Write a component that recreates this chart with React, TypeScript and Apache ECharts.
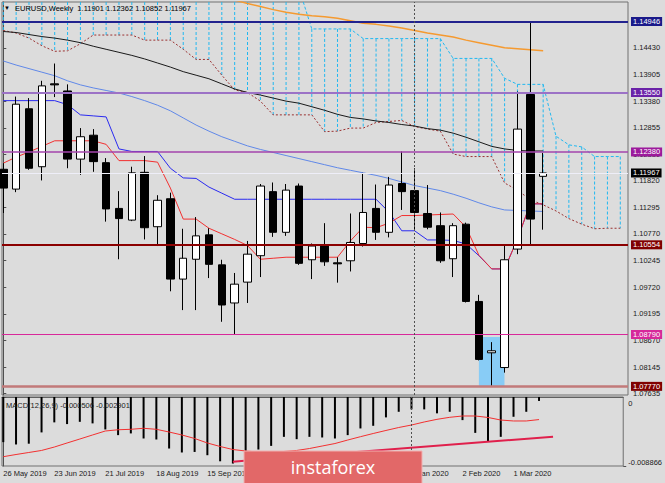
import React, { useEffect, useRef } from 'react';
import * as echarts from 'echarts';

const weeks = [
  '26 May 2019', '2 Jun 2019', '9 Jun 2019', '16 Jun 2019', '23 Jun 2019', '30 Jun 2019', '7 Jul 2019',
  '14 Jul 2019', '21 Jul 2019', '28 Jul 2019', '4 Aug 2019', '11 Aug 2019', '18 Aug 2019', '25 Aug 2019',
  '1 Sep 2019', '8 Sep 2019', '15 Sep 2019', '22 Sep 2019', '29 Sep 2019', '6 Oct 2019', '13 Oct 2019',
  '20 Oct 2019', '27 Oct 2019', '3 Nov 2019', '10 Nov 2019', '17 Nov 2019', '24 Nov 2019', '1 Dec 2019',
  '8 Dec 2019', '15 Dec 2019', '22 Dec 2019', '29 Dec 2019', '5 Jan 2020', '12 Jan 2020', '19 Jan 2020',
  '26 Jan 2020', '2 Feb 2020', '9 Feb 2020', '16 Feb 2020', '23 Feb 2020', '1 Mar 2020', '8 Mar 2020',
  '15 Mar 2020',
];
const dateLabelIdx = [0, 4, 8, 12, 16, 20, 24, 28, 32, 36, 40];

const opens = [1.1204, 1.1165, 1.1323, 1.1209, 1.1372, 1.1358, 1.1224, 1.1271, 1.1217, 1.1127, 1.1104, 1.1198, 1.1091, 1.1146, 1.0988, 1.1027, 1.1075, 1.1016, 1.0941, 1.0982, 1.1034, 1.1160, 1.1080, 1.1171, 1.1026, 1.1053, 1.1020, 1.1024, 1.1058, 1.1127, 1.1080, 1.1176, 1.1162, 1.1117, 1.1093, 1.1028, 1.1096, 1.0944, 1.0843, 1.0814, 1.1047, 1.1351, 1.11901];
const highs = [1.1216, 1.1347, 1.1344, 1.1378, 1.1412, 1.1371, 1.1285, 1.1283, 1.1226, 1.1161, 1.1209, 1.1230, 1.1153, 1.1158, 1.1087, 1.1110, 1.1088, 1.1026, 1.1000, 1.1063, 1.1175, 1.1178, 1.1175, 1.1176, 1.1058, 1.1098, 1.1031, 1.1117, 1.1197, 1.1174, 1.1189, 1.1239, 1.1206, 1.1173, 1.1119, 1.1098, 1.1099, 1.0957, 1.0864, 1.1055, 1.1357, 1.14946, 1.12362];
const lows = [1.1118, 1.1159, 1.1203, 1.1182, 1.1346, 1.1206, 1.1193, 1.1199, 1.1101, 1.1027, 1.1102, 1.1066, 1.1053, 1.0964, 1.0927, 1.0927, 1.0990, 1.0904, 1.0880, 1.0941, 1.0992, 1.1071, 1.1073, 1.1016, 1.0988, 1.1014, 1.0981, 1.1003, 1.1052, 1.1065, 1.1070, 1.1124, 1.1086, 1.1086, 1.1020, 1.0992, 1.0942, 1.0828, 1.0778, 1.0804, 1.1037, 1.1057, 1.10852];
const closes = [1.1167, 1.1332, 1.1206, 1.1368, 1.1370, 1.1224, 1.1268, 1.1219, 1.1126, 1.1107, 1.1197, 1.1089, 1.1143, 1.0988, 1.1029, 1.1073, 1.1017, 1.0937, 1.0978, 1.1037, 1.1171, 1.1080, 1.1163, 1.1019, 1.1053, 1.1022, 1.1018, 1.1060, 1.1119, 1.1080, 1.1173, 1.1160, 1.1119, 1.1090, 1.1024, 1.1093, 1.0944, 1.0830, 1.0847, 1.1026, 1.1283, 1.1106, 1.11967];

const maOrange = [null, null, null, null, null, null, null, null, null, null, null, null, null, null, null, null, null, null, 1.1537, 1.1530, 1.1524, 1.1518, 1.1513, 1.1509, 1.1506, 1.1504, 1.1501, 1.1496, 1.1491, 1.1489, 1.1486, 1.1482, 1.1477, 1.1472, 1.1468, 1.1464, 1.1458, 1.1453, 1.1448, 1.1443, 1.1441, 1.1439, 1.1437];
const maBlack = [1.1475, 1.1473, 1.1469, 1.1465, 1.1462, 1.1458, 1.1453, 1.1446, 1.1440, 1.1434, 1.1428, 1.1421, 1.1413, 1.1405, 1.1396, 1.1389, 1.1382, 1.1372, 1.1362, 1.1355, 1.1350, 1.1344, 1.1338, 1.1334, 1.1327, 1.1320, 1.1312, 1.1306, 1.1303, 1.1299, 1.1296, 1.1292, 1.1289, 1.1284, 1.1281, 1.1275, 1.1267, 1.1258, 1.1249, 1.1244, 1.1241, 1.1240, 1.1240];
const maBlue = [1.1417, 1.1409, 1.1402, 1.1395, 1.1388, 1.1378, 1.1370, 1.1364, 1.1359, 1.1354, 1.1347, 1.1339, 1.1330, 1.1319, 1.1305, 1.1291, 1.1279, 1.1268, 1.1259, 1.1250, 1.1243, 1.1237, 1.1231, 1.1225, 1.1219, 1.1213, 1.1207, 1.1202, 1.1197, 1.1192, 1.1186, 1.1179, 1.1172, 1.1167, 1.1162, 1.1155, 1.1147, 1.1138, 1.1130, 1.1124, 1.1123, 1.1122, 1.1121];
const kijun = [1.1339, 1.1339, 1.1339, 1.1339, 1.1339, 1.1331, 1.1311, 1.1309, 1.1307, 1.1244, 1.1239, 1.1239, 1.1239, 1.1206, 1.1187, 1.1186, 1.1169, 1.1157, 1.1145, 1.1145, 1.1145, 1.1145, 1.1145, 1.1145, 1.1145, 1.1145, 1.1145, 1.1145, 1.1145, 1.1145, 1.1120, 1.1083, 1.1083, 1.1065, 1.1065, 1.1064, 1.1057, 1.1034, 1.1008, 1.1008, 1.1067, 1.1136, 1.1136];
const tenkan = [1.1216, 1.1228, 1.1238, 1.1249, 1.1260, 1.1260, 1.1260, 1.1260, 1.1253, 1.1221, 1.1221, 1.1221, 1.1218, 1.1167, 1.1106, 1.1106, 1.1088, 1.1077, 1.1066, 1.1054, 1.1027, 1.1029, 1.1031, 1.1031, 1.1031, 1.1031, 1.1031, 1.1063, 1.1090, 1.1089, 1.1098, 1.1113, 1.1113, 1.1114, 1.1115, 1.1116, 1.1090, 1.1035, 1.1008, 1.1008, 1.1067, 1.1136, 1.1136];
const cloudUpper = [1.1560, 1.1560, 1.1560, 1.1560, 1.1560, 1.1560, 1.1560, 1.1560, 1.1560, 1.1560, 1.1560, 1.1560, 1.1560, 1.1560, 1.1560, 1.1560, 1.1560, 1.1560, 1.1560, 1.1560, 1.1560, 1.1560, 1.1560, 1.1560, 1.1480, 1.1480, 1.1480, 1.1480, 1.1461, 1.1461, 1.1461, 1.1461, 1.1461, 1.1461, 1.1461, 1.1422, 1.1422, 1.1422, 1.1422, 1.1383, 1.1371, 1.1371, 1.1371, 1.1269, 1.1252, 1.1248, 1.1229, 1.1229, 1.1229];
const cloudLower = [1.1477, 1.1472, 1.1462, 1.1447, 1.1436, 1.1437, 1.1451, 1.1468, 1.1468, 1.1468, 1.1468, 1.1458, 1.1458, 1.1458, 1.1440, 1.1420, 1.1420, 1.1389, 1.1360, 1.1355, 1.1338, 1.1311, 1.1311, 1.1311, 1.1311, 1.1278, 1.1279, 1.1285, 1.1285, 1.1296, 1.1298, 1.1300, 1.1288, 1.1283, 1.1279, 1.1234, 1.1229, 1.1229, 1.1229, 1.1177, 1.1163, 1.1144, 1.1134, 1.1122, 1.1107, 1.1096, 1.1087, 1.1088, 1.1088];

const macdHist = [-0.0058, -0.0061, -0.0060, -0.00455, -0.00326, -0.00348, -0.00319, -0.00339, -0.00417, -0.0049, -0.00468, -0.00533, -0.00546, -0.00662, -0.00713, -0.00706, -0.00748, -0.00826, -0.00855, -0.00787, -0.00675, -0.00628, -0.00512, -0.00542, -0.00512, -0.0052, -0.00533, -0.0049, -0.00404, -0.0037, -0.00262, -0.0019, -0.00159, -0.00159, -0.0021, -0.0019, -0.00297, -0.00461, -0.00577, -0.00512, -0.00254, -0.0019, -0.000506];
const macdSignal = [-0.00767, -0.00739, -0.00713, -0.00687, -0.00643, -0.00591, -0.0054, -0.00488, -0.00437, -0.00421, -0.00415, -0.00402, -0.00415, -0.0045, -0.00488, -0.00533, -0.00591, -0.00636, -0.00675, -0.00694, -0.00707, -0.00713, -0.007, -0.00687, -0.00662, -0.0063, -0.00598, -0.00553, -0.0051, -0.00469, -0.0043, -0.00392, -0.0036, -0.00321, -0.00287, -0.00261, -0.00244, -0.00244, -0.00263, -0.00296, -0.00308, -0.00308, -0.002901];
const macdTrendX = [18, 43.1];
const macdTrendY = [-0.00831, -0.0051];

const priceTicks = [1.07635, 1.08145, 1.0867, 1.09195, 1.0972, 1.10245, 1.1077, 1.11295, 1.1182, 1.1233, 1.12855, 1.1338, 1.13905, 1.1443];
const macdTopTick = [0];
const macdBottomTick = [-0.008866];

const levelValues = [1.14946, 1.1355, 1.1238, 1.11967, 1.10554, 1.0879, 1.0777];
const levelLineColors = ['#22228e', '#9c72c6', '#a444ac', '#eeeef8', '#8b0000', '#d8289a', '#c27a7a'];
const levelLineWidths = [2, 2, 1.5, 1, 2, 1, 2.5];
const levelTagColors = ['#1a1a8a', '#6a22a8', '#9c1a9c', '#000000', '#800000', '#d6289a', '#800000'];

const boxX = [37, 38.99];
const boxY = [1.0874, 1.0777];
const separatorIdx = 32;

const FONT = '"Liberation Sans", Arial, sans-serif';
const X_MIN = -0.1;
const X_MAX = 48.6;

const pairs = (arr: (number | null)[]) =>
  arr.map((v, i) => [i, v]).filter((p) => p[1] !== null);

export default function App() {
  const ref = useRef<HTMLDivElement>(null);

  useEffect(() => {
    if (!ref.current) return;
    const chart = echarts.init(ref.current, undefined, { renderer: 'svg' });
    const last = closes.length - 1;
    const header = `EURUSD,Weekly  ${opens[last].toFixed(5)} ${highs[last].toFixed(5)} ${lows[last].toFixed(5)} ${closes[last].toFixed(5)}`;
    const macdText = `MACD(12,26,9) ${macdHist[last].toFixed(6)} ${macdSignal[last].toFixed(6)}`;

    const levelMarks: any[] = levelValues.map((v, k) => ({
      yAxis: v,
      lineStyle: { color: levelLineColors[k], width: levelLineWidths[k], type: 'solid' },
      label: {
        show: true,
        position: 'end',
        distance: 3,
        formatter: v.toFixed(5),
        backgroundColor: levelTagColors[k],
        color: '#ffffff',
        padding: [1, 2, 0, 2],
        fontSize: 7.5,
        fontFamily: FONT,
      },
    }));
    levelMarks.push({
      xAxis: separatorIdx,
      lineStyle: { color: '#505050', width: 1, type: [2, 2] },
      label: { show: false },
    });

    const option: any = {
      animation: false,
      backgroundColor: '#dcdcdc',
      grid: [
        { left: 2, top: 2, right: 37, height: 393, show: true, borderColor: '#707070', borderWidth: 1, backgroundColor: 'transparent' },
        { left: 2, top: 397, right: 37, height: 69, show: true, borderColor: '#707070', borderWidth: 1, backgroundColor: 'transparent' },
      ],
      xAxis: [
        { type: 'value', gridIndex: 0, min: X_MIN, max: X_MAX, show: false, splitLine: { show: false } },
        {
          type: 'value', gridIndex: 1, min: X_MIN, max: X_MAX,
          axisLine: { show: true, lineStyle: { color: '#606060' } },
          axisTick: { show: true, length: 3, customValues: dateLabelIdx, lineStyle: { color: '#606060' } },
          axisLabel: {
            customValues: dateLabelIdx,
            formatter: (v: number) => weeks[Math.round(v)] || '',
            align: 'left', margin: 3, fontSize: 7.5, fontFamily: FONT, color: '#202020',
          },
          splitLine: { show: false },
        },
      ],
      yAxis: [
        {
          type: 'value', gridIndex: 0, position: 'right', min: 1.076, max: 1.1533,
          axisLine: { show: true, lineStyle: { color: '#505050' } },
          axisTick: { show: true, length: 3, customValues: priceTicks, lineStyle: { color: '#505050' } },
          axisLabel: {
            customValues: priceTicks,
            formatter: (v: number) => v.toFixed(5),
            margin: 5, fontSize: 7.5, fontFamily: FONT, color: '#202020',
          },
          splitLine: { show: false },
        },
        {
          type: 'value', gridIndex: 1, position: 'right', min: -0.008866, max: 0,
          axisLine: { show: true, lineStyle: { color: '#505050' } },
          axisTick: { show: true, length: 3, customValues: macdTopTick, lineStyle: { color: '#505050' } },
          axisLabel: {
            customValues: macdTopTick, formatter: (v: number) => String(v),
            verticalAlign: 'top', padding: [2, 0, 0, 0],
            margin: 5, fontSize: 7.5, fontFamily: FONT, color: '#202020',
          },
          splitLine: { show: false },
        },
        {
          type: 'value', gridIndex: 1, position: 'right', min: -0.008866, max: 0,
          axisLine: { show: false },
          axisTick: { show: true, length: 3, customValues: macdBottomTick, lineStyle: { color: '#505050' } },
          axisLabel: {
            customValues: macdBottomTick, formatter: (v: number) => String(v),
            verticalAlign: 'bottom',
            margin: 5, fontSize: 7.5, fontFamily: FONT, color: '#202020',
          },
          splitLine: { show: false },
        },
      ],
      series: [
        {
          type: 'custom', name: 'cloudFill', xAxisIndex: 0, yAxisIndex: 0, z: 1, silent: true,
          data: cloudLower.map((a, i) => [i, a, cloudUpper[i]]),
          encode: { x: 0, y: [1, 2] },
          renderItem: (params: any, api: any) => {
            const x = api.value(0);
            const p1 = api.coord([x, api.value(1)]);
            const p2 = api.coord([x, api.value(2)]);
            const cs = params.coordSys;
            const top = Math.max(Math.min(p1[1], p2[1]), cs.y);
            const bot = Math.min(Math.max(p1[1], p2[1]), cs.y + cs.height);
            if (p1[0] < cs.x || p1[0] > cs.x + cs.width) return null;
            return {
              type: 'line',
              shape: { x1: p1[0], y1: top, x2: p1[0], y2: bot },
              style: { stroke: '#22b8f0', lineWidth: 1, lineDash: [3, 2] },
            };
          },
        },
        {
          type: 'line', name: 'spanB', xAxisIndex: 0, yAxisIndex: 0, z: 2, symbol: 'none', silent: true,
          data: pairs(cloudUpper), lineStyle: { color: '#22b8f0', width: 1, type: [3, 2] },
        },
        {
          type: 'line', name: 'spanA', xAxisIndex: 0, yAxisIndex: 0, z: 2, symbol: 'none', silent: true,
          data: pairs(cloudLower), lineStyle: { color: '#9a3030', width: 1, type: [2, 2] },
        },
        {
          type: 'line', name: 'levels', xAxisIndex: 0, yAxisIndex: 0, z: 2, symbol: 'none', silent: true,
          data: [],
          markLine: { silent: true, precision: 6, symbol: ['none', 'none'], data: levelMarks },
          markArea: {
            silent: true,
            itemStyle: { color: '#88ccf6' },
            data: [[{ xAxis: boxX[0], yAxis: boxY[0] }, { xAxis: boxX[1], yAxis: boxY[1] }]],
          },
        },
        {
          type: 'line', name: 'ma200', xAxisIndex: 0, yAxisIndex: 0, z: 3, symbol: 'none', silent: true,
          data: pairs(maOrange), lineStyle: { color: '#f59a30', width: 1.5 },
        },
        {
          type: 'line', name: 'ma100', xAxisIndex: 0, yAxisIndex: 0, z: 3, symbol: 'none', silent: true,
          data: pairs(maBlack), lineStyle: { color: '#1a1a1a', width: 1 },
        },
        {
          type: 'line', name: 'ma50', xAxisIndex: 0, yAxisIndex: 0, z: 3, symbol: 'none', silent: true,
          data: pairs(maBlue), lineStyle: { color: '#6088e8', width: 1 },
        },
        {
          type: 'line', name: 'kijun', xAxisIndex: 0, yAxisIndex: 0, z: 3, symbol: 'none', silent: true,
          data: pairs(kijun), lineStyle: { color: '#2a2af0', width: 1 },
        },
        {
          type: 'line', name: 'tenkan', xAxisIndex: 0, yAxisIndex: 0, z: 3, symbol: 'none', silent: true,
          data: pairs(tenkan), lineStyle: { color: '#f23030', width: 1 },
        },
        {
          type: 'candlestick', name: 'EURUSD', xAxisIndex: 0, yAxisIndex: 0, z: 4, silent: true,
          barWidth: 8,
          encode: { x: 0, y: [1, 2, 3, 4] },
          data: opens.map((o, i) => [i, o, closes[i], lows[i], highs[i]]),
          itemStyle: { color: '#ffffff', color0: '#000000', borderColor: '#000000', borderColor0: '#000000', borderWidth: 1 },
        },
        {
          type: 'bar', name: 'MACD', xAxisIndex: 1, yAxisIndex: 1, z: 2, silent: true,
          barWidth: 2,
          data: macdHist.map((v, i) => [i, v]),
          itemStyle: { color: '#000000' },
          markLine: {
            silent: true, symbol: ['none', 'none'],
            data: [{ xAxis: separatorIdx, lineStyle: { color: '#505050', width: 1, type: [2, 2] }, label: { show: false } }],
          },
        },
        {
          type: 'line', name: 'Signal', xAxisIndex: 1, yAxisIndex: 1, z: 3, symbol: 'none', silent: true,
          data: macdSignal.map((v, i) => [i, v]), lineStyle: { color: '#f23030', width: 1 },
        },
        {
          type: 'line', name: 'trend', xAxisIndex: 1, yAxisIndex: 1, z: 3, symbol: 'none', silent: true,
          data: macdTrendX.map((x, i) => [x, macdTrendY[i]]), lineStyle: { color: '#e0204c', width: 2 },
        },
      ],
      graphic: [
        { type: 'text', x: 4, y: 8, z: 50, style: { text: '▼', fontSize: 6, fontFamily: FONT, fill: '#000', verticalAlign: 'middle' } },
        { type: 'text', x: 15, y: 8, z: 50, style: { text: header, fontSize: 7.5, fontFamily: FONT, fill: '#000', verticalAlign: 'middle' } },
        { type: 'text', x: 6, y: 405, z: 50, style: { text: macdText, fontSize: 7.5, fontFamily: FONT, fill: '#202020', verticalAlign: 'middle' } },
        {
          type: 'rect', z: 100, zlevel: 0,
          shape: { x: 244, y: 451, width: 178, height: 36 },
          style: { fill: '#e26868', stroke: '#f2b0b0', lineWidth: 1 },
        },
        {
          type: 'text', z: 101, x: 333, y: 467,
          style: { text: 'instaforex', fontSize: 18, fontFamily: '"Open Sans", sans-serif', fill: '#ffffff', align: 'center', verticalAlign: 'middle' },
        },
      ],
    };

    chart.setOption(option);
    return () => chart.dispose();
  }, []);

  return (
    <div
      ref={ref}
      style={{ position: 'fixed', left: 0, top: 0, width: 665, height: 483 }}
    />
  );
}
